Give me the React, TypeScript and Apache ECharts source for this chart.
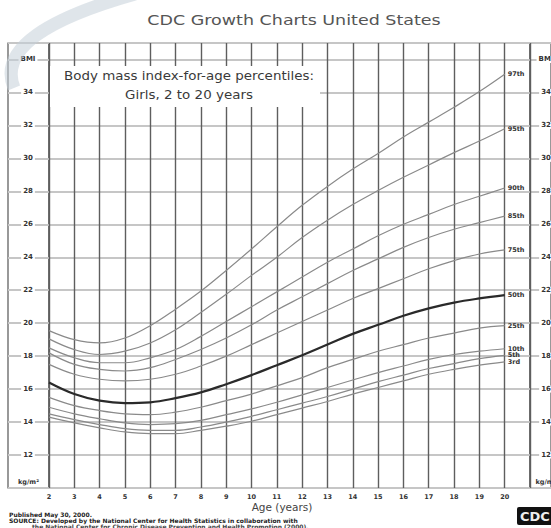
import React, { useEffect, useRef } from "react";
import * as echarts from "echarts";

const ages = [2, 3, 4, 5, 6, 7, 8, 9, 10, 11, 12, 13, 14, 15, 16, 17, 18, 19, 20];
const p3 = [14.3, 13.95, 13.65, 13.4, 13.3, 13.3, 13.5, 13.75, 14.05, 14.45, 14.85, 15.25, 15.7, 16.1, 16.5, 16.9, 17.2, 17.45, 17.65];
const p5 = [14.5, 14.15, 13.85, 13.6, 13.5, 13.5, 13.7, 14.0, 14.35, 14.75, 15.15, 15.55, 16.0, 16.45, 16.85, 17.25, 17.55, 17.85, 18.05];
const p10 = [14.9, 14.5, 14.2, 13.95, 13.85, 13.9, 14.1, 14.45, 14.8, 15.2, 15.65, 16.1, 16.55, 17.0, 17.4, 17.8, 18.1, 18.3, 18.45];
const p25 = [15.5, 15.0, 14.7, 14.5, 14.45, 14.6, 14.9, 15.3, 15.7, 16.2, 16.7, 17.3, 17.8, 18.3, 18.7, 19.1, 19.4, 19.7, 19.85];
const p50 = [16.4, 15.7, 15.3, 15.15, 15.2, 15.45, 15.8, 16.3, 16.85, 17.45, 18.05, 18.7, 19.35, 19.9, 20.45, 20.9, 21.25, 21.5, 21.7];
const p75 = [17.5, 16.9, 16.6, 16.5, 16.6, 16.9, 17.4, 18.0, 18.7, 19.4, 20.1, 20.8, 21.5, 22.1, 22.7, 23.3, 23.8, 24.2, 24.45];
const p85 = [18.2, 17.5, 17.2, 17.1, 17.3, 17.8, 18.4, 19.1, 19.9, 20.8, 21.6, 22.4, 23.2, 23.9, 24.6, 25.2, 25.7, 26.1, 26.5];
const p90 = [18.5, 17.9, 17.6, 17.6, 17.9, 18.4, 19.2, 20.1, 21.0, 21.9, 22.8, 23.7, 24.5, 25.3, 26.0, 26.6, 27.2, 27.7, 28.2];
const p95 = [19.05, 18.4, 18.1, 18.3, 18.8, 19.6, 20.65, 21.75, 22.9, 24.0, 25.2, 26.25, 27.2, 28.05, 28.85, 29.6, 30.35, 31.05, 31.8];
const p97 = [19.55, 19.0, 18.8, 19.1, 19.85, 20.85, 21.95, 23.2, 24.5, 25.85, 27.15, 28.3, 29.35, 30.3, 31.3, 32.2, 33.1, 34.05, 35.1];

const percentileNames = ["3rd", "5th", "10th", "25th", "50th", "75th", "85th", "90th", "95th", "97th"];
const percentileValues = [p3, p5, p10, p25, p50, p75, p85, p90, p95, p97];

const yTicks = [12, 14, 16, 18, 20, 22, 24, 26, 28, 30, 32, 34];
const xTicks = ages;

const title = "CDC Growth Charts United States";
const boxTitle1 = "Body mass index-for-age percentiles:";
const boxTitle2 = "Girls, 2 to 20 years";
const xName = "Age (years)";
const footer1 = "Published May 30, 2000.";
const footer2 = "SOURCE: Developed by the National Center for Health Statistics in collaboration with";
const footer3 = "the National Center for Chronic Disease Prevention and Health Promotion (2000).";

const FONT = "DejaVu Sans";

function yLabel(v: number): string {
  if (v === 36) return "BMI";
  if (yTicks.indexOf(v) >= 0) return String(v);
  return "";
}

export default function App() {
  const ref = useRef<HTMLDivElement>(null);
  useEffect(() => {
    if (!ref.current) return;
    const chart = echarts.init(ref.current, undefined, { renderer: "svg" });
    const gridTop = 43;
    const gridH = 445;
    const yBase = {
      type: "value" as const,
      min: 10,
      max: 37,
      interval: 2,
      axisLine: { show: false },
      axisTick: { show: false },
    };
    const splitLine = { show: true, lineStyle: { color: "#c6c6c6", width: 2 } };
    const sideLabel = {
      inside: true,
      align: "center" as const,
      fontSize: 7,
      fontWeight: "bold" as const,
      fontFamily: FONT,
      color: "#333",
      backgroundColor: "#fff",
      padding: [0, 2],
      formatter: (v: number) => yLabel(v),
    };
    const series: any[] = percentileValues.map((vals, i) => ({
      type: "line",
      name: percentileNames[i],
      xAxisIndex: 0,
      yAxisIndex: 0,
      data: ages.map((a, j) => [a, vals[j]]),
      smooth: 0.4,
      showSymbol: false,
      symbol: "none",
      z: 5,
      lineStyle: {
        color: percentileNames[i] === "50th" ? "#2a2a2a" : "#8a8a8a",
        width: percentileNames[i] === "50th" ? 2.2 : 1.2,
      },
      endLabel: {
        show: true,
        formatter: percentileNames[i],
        fontSize: 6.5,
        fontWeight: "bold",
        fontFamily: FONT,
        color: "#333",
        distance: 3,
      },
    }));

    chart.setOption({
      animation: false,
      backgroundColor: "#fff",
      grid: [
        { left: 49, top: gridTop, width: 481, height: gridH, show: true, borderColor: "#555", borderWidth: 1.2, backgroundColor: "transparent" },
        { left: 8, top: gridTop, width: 41, height: gridH, show: true, borderColor: "#555", borderWidth: 1.2 },
        { left: 530, top: gridTop, width: 32, height: gridH, show: true, borderColor: "#555", borderWidth: 1.2 },
      ],
      xAxis: [
        {
          type: "value",
          gridIndex: 0,
          min: 2,
          max: 21,
          interval: 1,
          axisLine: { show: false },
          axisTick: { show: false },
          splitLine: { show: true, lineStyle: { color: "#5e5e5e", width: 1.4 } },
          axisLabel: {
            margin: 5,
            fontSize: 6.5,
            fontWeight: "bold",
            fontFamily: FONT,
            color: "#333",
            formatter: (v: number) => (xTicks.indexOf(v) >= 0 ? String(v) : ""),
          },
        },
        { type: "value", gridIndex: 1, min: 0, max: 1, show: false },
        { type: "value", gridIndex: 2, min: 0, max: 1, show: false },
      ],
      yAxis: [
        { ...yBase, gridIndex: 0, axisLabel: { show: false }, splitLine },
        { ...yBase, gridIndex: 1, position: "left", splitLine, axisLabel: { ...sideLabel, margin: 20 } },
        { ...yBase, gridIndex: 2, position: "left", splitLine, axisLabel: { ...sideLabel, margin: 16 } },
      ],
      series,
      graphic: [
        {
          type: "text",
          x: 294,
          y: 20,
          scaleX: 1.25,
          style: { text: title, font: `14px '${FONT}'`, fill: "#555", align: "center", verticalAlign: "middle" },
        },
        { type: "rect", shape: { x: 50, y: 66, width: 270, height: 41 }, style: { fill: "#fff" }, z: 10 },
        {
          type: "text",
          x: 189,
          y: 76,
          z: 11,
          scaleX: 1.12,
          style: { text: boxTitle1, font: `12px '${FONT}'`, fill: "#3a3a3a", align: "center", verticalAlign: "middle" },
        },
        {
          type: "text",
          x: 189,
          y: 95,
          z: 11,
          scaleX: 1.12,
          style: { text: boxTitle2, font: `12px '${FONT}'`, fill: "#3a3a3a", align: "center", verticalAlign: "middle" },
        },
        {
          type: "text",
          x: 28.5,
          y: 482,
          z: 11,
          style: { text: "kg/m²", font: `bold 6.5px '${FONT}'`, fill: "#333", align: "center", verticalAlign: "middle" },
        },
        {
          type: "text",
          x: 546,
          y: 482,
          z: 11,
          style: { text: "kg/m²", font: `bold 6.5px '${FONT}'`, fill: "#333", align: "center", verticalAlign: "middle" },
        },
        {
          type: "text",
          x: 282,
          y: 507,
          style: { text: xName, font: `10.5px '${FONT}'`, fill: "#444", align: "center", verticalAlign: "middle" },
        },
        {
          type: "text",
          x: 9,
          y: 514,
          style: { text: footer1, font: `bold 6px '${FONT}'`, fill: "#222", verticalAlign: "middle" },
        },
        {
          type: "text",
          x: 9,
          y: 520,
          style: { text: footer2, font: `bold 6px '${FONT}'`, fill: "#222", verticalAlign: "middle" },
        },
        {
          type: "text",
          x: 32,
          y: 526,
          style: { text: footer3, font: `bold 6px '${FONT}'`, fill: "#444", verticalAlign: "middle" },
        },
        { type: "rect", shape: { x: 517, y: 507, width: 40, height: 18, r: 2 }, style: { fill: "#111" } },
        {
          type: "text",
          x: 520,
          y: 516,
          style: { text: "CDC", font: `bold 13px '${FONT}'`, fill: "#eee", verticalAlign: "middle" },
        },
        {
          type: "bezierCurve",
          shape: { x1: 135, y1: -6, cpx1: 50, cpy1: 18, cpx2: -2, cpy2: 48, x2: 14, y2: 88 },
          style: { stroke: "rgba(196,208,216,0.55)", lineWidth: 13, fill: "none" },
          z: 20,
        },
      ],
    });
    return () => chart.dispose();
  }, []);
  return <div ref={ref} style={{ position: "absolute", left: 0, top: 0, width: 551, height: 528 }} />;
}
